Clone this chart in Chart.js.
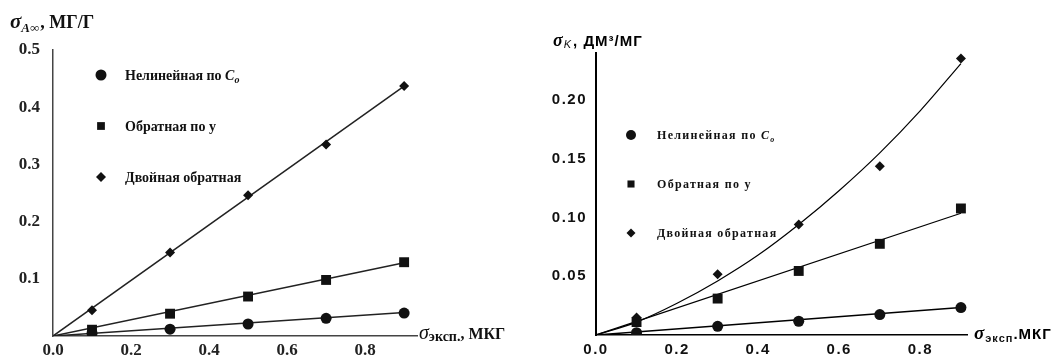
<!DOCTYPE html>
<html>
<head>
<meta charset="utf-8">
<script src="https://cdn.jsdelivr.net/npm/chart.js@4.4.1/dist/chart.umd.min.js"></script>
<style>
  body { margin: 0; background: #fff; }
  #wrap { position: relative; width: 1061px; height: 357px; }
  canvas { position: absolute; top: 0; }
</style>
</head>
<body>
<div id="wrap">
  <canvas id="left" width="530" height="357" style="left:0"></canvas>
  <canvas id="right" width="531" height="357" style="left:530px"></canvas>
</div>
<script>
// experimental x values (both panels)
const xs = [0.1, 0.3, 0.5, 0.7, 0.9]

// left panel, sigma A-inf
const leftNonlinear = [0.005, 0.012, 0.021, 0.031, 0.040]
const leftInverseY = [0.011, 0.039, 0.069, 0.098, 0.129]
const leftDouble = [0.045, 0.146, 0.246, 0.335, 0.437]
// fitted straight lines, read at x = 0 and x = 0.9
const fitEnds = [0, 0.9]
const leftFitNonlinear = [0, 0.041]
const leftFitInverseY = [0, 0.128]
const leftFitDouble = [0, 0.437]

// right panel, sigma K
const rightNonlinear = [0.002, 0.0074, 0.0117, 0.0174, 0.0233]
const rightInverseY = [0.011, 0.031, 0.0545, 0.0776, 0.1077]
const rightDouble = [0.015, 0.0517, 0.094, 0.1437, 0.2354]
const rightFitNonlinear = [0, 0.0233]
const rightFitInverseY = [0, 0.1036]
// the curved fit
const curveX = [0, 0.1, 0.2, 0.3, 0.4, 0.5, 0.6, 0.7, 0.8, 0.9]
const rightFitDouble = [0, 0.011, 0.027, 0.046, 0.068, 0.094, 0.123, 0.155, 0.191, 0.231]

const seriesNames = ['Нелинейная по ', 'Обратная по у', 'Двойная обратная']
const leftXTicks = [0, 0.2, 0.4, 0.6, 0.8]
const leftYTicks = [0.1, 0.2, 0.3, 0.4, 0.5]
const rightXTicks = [0, 0.2, 0.4, 0.6, 0.8]
const rightYTicks = [0.05, 0.10, 0.15, 0.20]

const pts = (xv, yv) => xv.map((x, i) => ({ x: x, y: yv[i] }))

function drawPieces(ctx, x, y, pieces, spacing) {
  ctx.save()
  ctx.textBaseline = 'alphabetic'
  ctx.textAlign = 'left'
  if ('letterSpacing' in ctx) ctx.letterSpacing = (spacing || 0) + 'px'
  pieces.forEach(p => {
    ctx.font = p.font
    ctx.fillStyle = p.color || '#111'
    ctx.fillText(p.text, x, y + (p.dy || 0))
    x += ctx.measureText(p.text).width + (p.dx || 0)
  })
  ctx.restore()
}

// titles and the legend inside the plot
const decor = {
  id: 'decor',
  beforeDraw(chart, args, opts) {
    if ('letterSpacing' in chart.ctx) chart.ctx.letterSpacing = (opts.spacing || 0) + 'px'
  },
  afterDraw(chart, args, opts) {
    const ctx = chart.ctx
    opts.titles.forEach(t => drawPieces(ctx, t.x, t.y, t.pieces, t.spacing))
    const lg = opts.legend
    chart.data.datasets.filter(d => d.legendIndex !== undefined).forEach(d => {
      const y = lg.y + d.legendIndex * lg.gap
      ctx.save()
      ctx.fillStyle = '#111'
      ctx.strokeStyle = '#111'
      Chart.helpers.drawPoint(ctx, { pointStyle: d.pointStyle, radius: lg.radius[d.legendIndex], rotation: 0, borderWidth: 0 }, lg.x, y)
      ctx.restore()
      drawPieces(ctx, lg.textX, y + lg.baseline, lg.labels[d.legendIndex], lg.spacing)
    })
  }
}

function markerSet(data, style, radius, idx) {
  return {
    data: data, showLine: false, pointStyle: style, pointRadius: radius, pointHoverRadius: radius,
    backgroundColor: '#111', borderColor: '#111', borderWidth: 0, legendIndex: idx
  }
}
function lineSet(data, color, width) {
  return {
    data: data, showLine: true, pointRadius: 0, borderColor: color, borderWidth: width,
    backgroundColor: color, cubicInterpolationMode: 'monotone'
  }
}

// ---------- left chart ----------
const serifTick = { family: 'Liberation Serif', size: 17, weight: 'bold' }
const leftLegendLabels = seriesNames.map((n, i) => {
  const f = 'bold 14px "Liberation Serif"'
  if (i === 0) return [{ text: n, font: f }, { text: 'C', font: 'italic bold 14px "Liberation Serif"' }, { text: 'o', font: 'italic bold 10px "Liberation Serif"', dy: 3 }]
  return [{ text: n, font: f }]
})

new Chart(document.getElementById('left'), {
  type: 'scatter',
  data: {
    datasets: [
      markerSet(pts(xs, leftNonlinear), 'circle', 5.5, 0),
      markerSet(pts(xs, leftInverseY), 'rect', 7, 1),
      markerSet(pts(xs, leftDouble), 'rectRot', 5, 2),
      lineSet(pts(fitEnds, leftFitNonlinear), '#222', 1.5),
      lineSet(pts(fitEnds, leftFitInverseY), '#222', 1.5),
      lineSet(pts(fitEnds, leftFitDouble), '#222', 1.5)
    ]
  },
  options: {
    responsive: false,
    animation: false,
    layout: { padding: { left: 0, top: 50, right: 113, bottom: 0 } },
    plugins: {
      legend: { display: false },
      tooltip: { enabled: false },
      decor: {
        spacing: 0,
        titles: [
          { x: 10, y: 28, pieces: [
            { text: 'σ', font: 'italic bold 21px "Liberation Serif"' },
            { text: 'A∞', font: 'italic bold 13px "Liberation Serif"', dy: 4, dx: 1 },
            { text: ', МГ/Г', font: 'bold 18px "Liberation Serif"' }
          ] },
          { x: 419, y: 339, pieces: [
            { text: 'σ', font: 'italic 20px "Liberation Serif"' },
            { text: 'эксп.', font: 'bold 14px "Liberation Serif"', dy: 2 },
            { text: ', МКГ', font: 'bold 16px "Liberation Serif"' }
          ] }
        ],
        legend: { x: 101, y: 75, gap: 51, textX: 125, baseline: 5, spacing: 0, radius: [5.5, 5.5, 5], labels: leftLegendLabels }
      }
    },
    scales: {
      x: {
        type: 'linear', min: 0, max: 0.933,
        grid: { display: false },
        border: { display: true, color: '#444', width: 1.5 },
        afterFit: s => { s.height = 21 },
        afterBuildTicks: s => { s.ticks = leftXTicks.map(v => ({ value: v })) },
        ticks: { padding: -4, color: '#222', font: serifTick, callback: v => v.toFixed(1) }
      },
      y: {
        type: 'linear', min: 0, max: 0.5,
        grid: { display: false },
        border: { display: true, color: '#444', width: 1.5 },
        afterFit: s => { s.width = 53 },
        afterBuildTicks: s => { s.ticks = leftYTicks.map(v => ({ value: v })) },
        ticks: { padding: 5, color: '#222', font: serifTick, callback: v => v.toFixed(1) }
      }
    }
  },
  plugins: [decor]
})

// ---------- right chart ----------
const sansTick = { family: 'Liberation Sans', size: 15, weight: 'bold' }
const rightLegendLabels = seriesNames.map((n, i) => {
  const f = 'bold 12px "Liberation Serif"'
  if (i === 0) return [{ text: n, font: f }, { text: 'C', font: 'italic bold 12px "Liberation Serif"' }, { text: 'o', font: 'italic bold 8px "Liberation Serif"', dy: 3 }]
  return [{ text: n, font: f }]
})

new Chart(document.getElementById('right'), {
  type: 'scatter',
  data: {
    datasets: [
      markerSet(pts(xs, rightNonlinear), 'circle', 5.5, 0),
      markerSet(pts(xs, rightInverseY), 'rect', 7, 1),
      markerSet(pts(xs, rightDouble), 'rectRot', 5, 2),
      lineSet(pts(fitEnds, rightFitNonlinear), '#000', 1.5),
      lineSet(pts(fitEnds, rightFitInverseY), '#000', 1.2),
      lineSet(pts(curveX, rightFitDouble), '#000', 1.2)
    ]
  },
  options: {
    responsive: false,
    animation: false,
    layout: { padding: { left: 0, top: 53, right: 94, bottom: 0 } },
    plugins: {
      legend: { display: false },
      tooltip: { enabled: false },
      decor: {
        spacing: 1.5,
        titles: [
          { x: 23, y: 46, spacing: 1, pieces: [
            { text: 'σ', font: 'italic bold 18px "Liberation Serif"', color: '#000' },
            { text: 'K', font: 'italic 11px "Liberation Sans"', dy: 2, dx: 1 },
            { text: ', ДМ³/МГ', font: 'bold 15px "Liberation Sans"', color: '#000' }
          ] },
          { x: 444, y: 339, spacing: 1, pieces: [
            { text: 'σ', font: 'italic bold 19px "Liberation Serif"', color: '#000' },
            { text: 'эксп', font: 'bold 11px "Liberation Sans"', dy: 3 },
            { text: '.МКГ', font: 'bold 15px "Liberation Sans"', color: '#000' }
          ] }
        ],
        legend: { x: 101, y: 135, gap: 49, textX: 127, baseline: 4, spacing: 1.3, radius: [5, 5, 4.5], labels: rightLegendLabels }
      }
    },
    scales: {
      x: {
        type: 'linear', min: 0, max: 0.915,
        grid: { display: false },
        border: { display: true, color: '#000', width: 1.5 },
        afterFit: s => { s.height = 22 },
        afterBuildTicks: s => { s.ticks = rightXTicks.map(v => ({ value: v })) },
        ticks: { padding: -2, color: '#111', font: sansTick, callback: v => v.toFixed(1) }
      },
      y: {
        type: 'linear', min: 0, max: 0.24,
        grid: { display: false },
        border: { display: true, color: '#000', width: 2 },
        afterFit: s => { s.width = 66 },
        afterBuildTicks: s => { s.ticks = rightYTicks.map(v => ({ value: v })) },
        ticks: { padding: 1, color: '#111', font: sansTick, callback: v => v.toFixed(2) }
      }
    }
  },
  plugins: [decor]
})
</script>
</body>
</html>
